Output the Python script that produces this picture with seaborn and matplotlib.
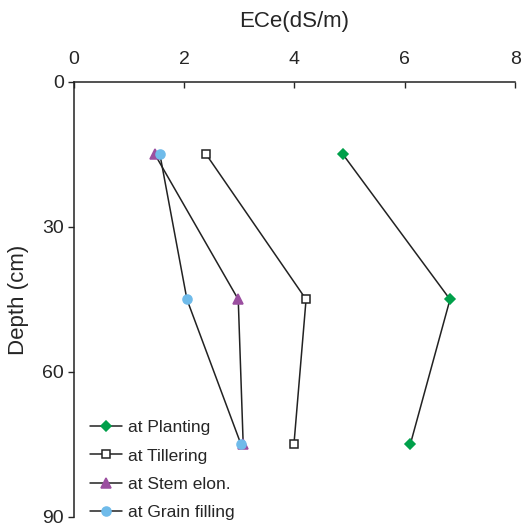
import matplotlib
matplotlib.use('Agg')
import matplotlib.pyplot as plt
import seaborn as sns
import pandas as pd

depth = [15, 45, 75]
planting = [4.88, 6.82, 6.10]
tillering = [2.40, 4.21, 3.99]
stem_elon = [1.47, 2.98, 3.07]
grain_filling = [1.56, 2.05, 3.03]

sns.set_style('ticks')
plt.rcParams['font.family'] = ['Liberation Sans', 'DejaVu Sans']

fig = plt.figure(figsize=(5.24, 5.29), dpi=100)
ax = fig.add_axes([0.141, 0.023, 0.842, 0.822])

series = [
    ('at Planting', planting, 'D', '#00a04a', '#00a04a', 5.5),
    ('at Tillering', tillering, 's', 'white', '#222222', 5.5),
    ('at Stem elon.', stem_elon, '^', '#9b4fa0', '#9b4fa0', 7),
    ('at Grain filling', grain_filling, 'o', '#6fbbea', '#6fbbea', 6.5),
]

for name, vals, mk, fc, ec, ms in series:
    df = pd.DataFrame({'ECe': vals, 'Depth': depth})
    sns.lineplot(data=df, x='ECe', y='Depth', sort=False, estimator=None,
                 color='#222222', lw=1.1, marker=mk, markerfacecolor=fc,
                 markeredgecolor=ec, markeredgewidth=1.1, markersize=ms,
                 label=name, ax=ax)

ax.set_xlim(0, 8)
ax.set_ylim(90, 0)
ax.set_xticks([0, 2, 4, 6, 8])
ax.set_yticks([0, 30, 60, 90])
ax.xaxis.tick_top()
ax.xaxis.set_label_position('top')
ax.set_xlabel('ECe(dS/m)', fontsize=16, labelpad=17)
ax.set_ylabel('Depth (cm)', fontsize=16, labelpad=10)
ax.tick_params(axis='x', direction='in', length=4, width=1, labelsize=14, pad=10)
ax.tick_params(axis='y', direction='out', length=4, width=1, labelsize=14, pad=3)
for s in ['right', 'bottom']:
    ax.spines[s].set_visible(False)
for s in ['top', 'left']:
    ax.spines[s].set_linewidth(1.1)
    ax.spines[s].set_color('#222222')

ax.legend(loc='lower left', frameon=False, fontsize=12.5, handlelength=1.8,
          labelspacing=0.75, handletextpad=0.35, borderaxespad=0.3,
          bbox_to_anchor=(0.01, -0.035))

fig.savefig('out.png', dpi=100)
